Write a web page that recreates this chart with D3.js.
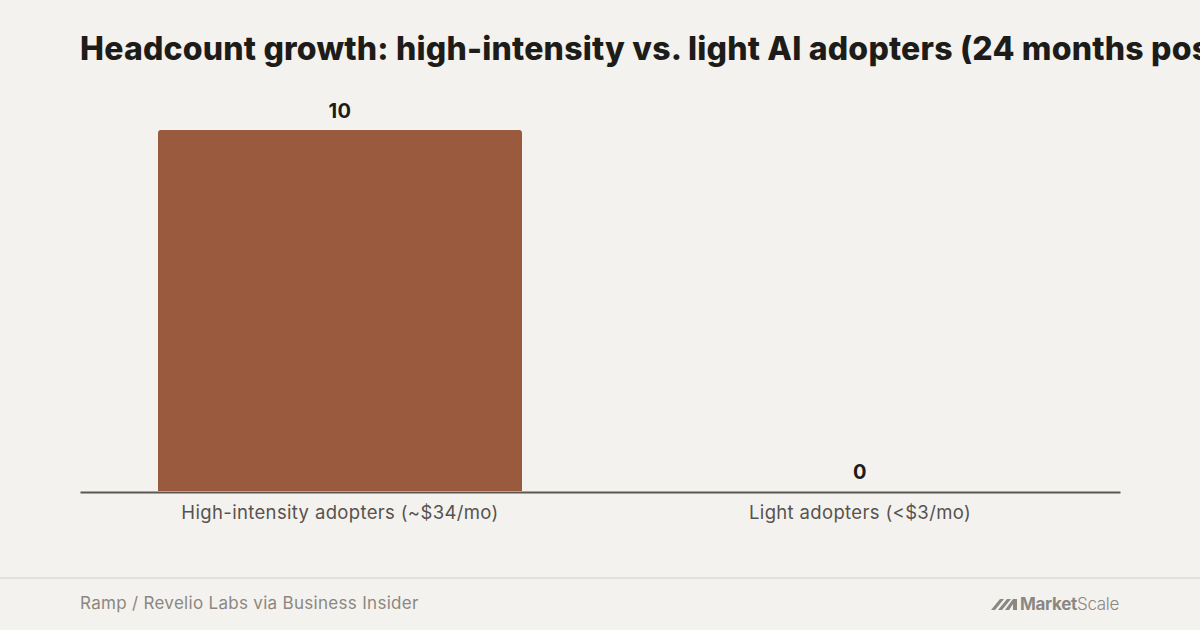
<!DOCTYPE html>
<html>
<head>
<meta charset="utf-8">
<script src="https://cdn.jsdelivr.net/npm/d3@7/dist/d3.min.js"></script>
<style>
  html, body { margin: 0; padding: 0; background: #f4f2ee; }
  svg { display: block; font-family: Inter, "Noto Sans", sans-serif; }
</style>
</head>
<body>
<svg id="chart"></svg>
<script>
const WIDTH = 1200;
const HEIGHT = 630;

const TITLE = 'Headcount growth: high-intensity vs. light AI adopters (24 months post-adoption)';
const SOURCE = 'Ramp / Revelio Labs via Business Insider';

const categories = ['High-intensity adopters (~$34/mo)', 'Light adopters (<$3/mo)'];
const values = [10, 0];

const BAR_COLOR = '#995a3d';
const INK = '#1e1c19';

const svg = d3.select('#chart')
  .attr('width', WIDTH)
  .attr('height', HEIGHT);

svg.append('rect')
  .attr('width', WIDTH)
  .attr('height', HEIGHT)
  .attr('fill', '#f4f2ee');

// the title runs past the right edge, as in the original
svg.append('text')
  .attr('x', 80)
  .attr('y', 60)
  .attr('font-size', 32)
  .attr('font-weight', 800)
  .attr('letter-spacing', 0.2)
  .attr('fill', INK)
  .text(TITLE);

const x = d3.scaleBand()
  .domain(categories)
  .range([80, 1120])
  .paddingInner(0.3)
  .paddingOuter(0.15);

const y = d3.scaleLinear()
  .domain([0, 10])
  .range([491, 130]);

const data = categories.map((c, i) => ({ category: c, value: values[i] }));

// bars with rounded top corners only
const barPath = d => {
  const x0 = x(d.category);
  const x1 = x0 + x.bandwidth();
  const y0 = y(0);
  const y1 = y(d.value);
  if (y0 - y1 <= 0) return '';
  const r = Math.min(3, (y0 - y1) / 2);
  return `M${x0},${y0}V${y1 + r}Q${x0},${y1} ${x0 + r},${y1}H${x1 - r}Q${x1},${y1} ${x1},${y1 + r}V${y0}Z`;
};

svg.append('g')
  .selectAll('path')
  .data(data)
  .enter()
  .append('path')
  .attr('d', barPath)
  .attr('fill', BAR_COLOR);

svg.append('g')
  .selectAll('text')
  .data(data)
  .enter()
  .append('text')
  .attr('x', d => x(d.category) + x.bandwidth() / 2)
  .attr('y', d => y(d.value) - 12)
  .attr('text-anchor', 'middle')
  .attr('font-size', 20)
  .attr('font-weight', 700)
  .attr('letter-spacing', 0.4)
  .attr('fill', INK)
  .text(d => d.value);

// x axis
const xAxis = svg.append('g')
  .attr('transform', `translate(0,${y(0) + 1})`)
  .call(d3.axisBottom(x).tickSize(0).tickPadding(14));

xAxis.select('.domain')
  .attr('stroke', '#5a5650')
  .attr('stroke-width', 2);

xAxis.selectAll('text')
  .attr('font-family', 'Inter, "Noto Sans", sans-serif')
  .attr('font-size', 18.5)
  .attr('letter-spacing', 0.35)
  .attr('fill', '#57534e');

// footer
svg.append('line')
  .attr('x1', 0)
  .attr('x2', WIDTH)
  .attr('y1', 578)
  .attr('y2', 578)
  .attr('stroke', '#e4e1dc')
  .attr('stroke-width', 2);

svg.append('text')
  .attr('x', 80)
  .attr('y', 609)
  .attr('font-size', 17)
  .attr('letter-spacing', 0.3)
  .attr('fill', '#8b8781')
  .text(SOURCE);

const logo = svg.append('g')
  .attr('transform', 'translate(991,596)')
  .attr('fill', '#8b8781');

logo.append('path')
  .attr('d', 'M0,14 L9,3 L13,3 L4,14 Z M7,14 L16,3 L20,3 L11,14 Z M14,14 L22,3 L26,3 L26,14 L22,14 L22,8 L18,14 Z');

const logoText = logo.append('text')
  .attr('x', 29)
  .attr('y', 14)
  .attr('font-size', 17)
  .attr('letter-spacing', -0.3);

logoText.append('tspan').attr('font-weight', 700).text('Market');
logoText.append('tspan').attr('font-weight', 300).text('Scale');
</script>
</body>
</html>
